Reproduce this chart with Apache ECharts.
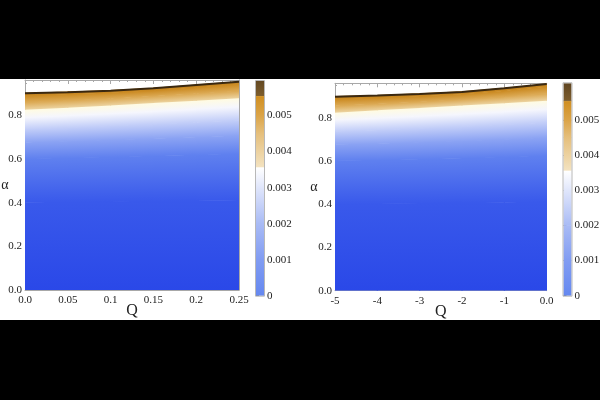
<!DOCTYPE html>
<html><head><meta charset="utf-8">
<script src="https://cdn.jsdelivr.net/npm/echarts@6/dist/echarts.min.js"></script>
<style>
html,body{margin:0;padding:0;background:#000;}
#band{position:absolute;left:0;top:79px;width:600px;height:241px;background:#fff;}
#chart{position:absolute;left:0;top:0;width:600px;height:400px;}
</style></head><body>
<div id="band"></div><div id="chart"></div>
<script>
// ---------------- data ----------------
const qLeft  = [0, 0.05, 0.1, 0.15, 0.2, 0.25];
const qRight = [-5, -4, -3, -2, -1, 0];

// contour levels of the plotted quantity and their plot colours
const levelValues = [0, 0.001, 0.002, 0.0025, 0.003, 0.0034, 0.00358, 0.00362, 0.0045, 0.0055, 0.0058];
const levelColors = ['#2a48e8', '#3959eb', '#5f80ef', '#8aa2f3', '#c0ccf8', '#f5f6fd', '#fffbe2', '#ecd3a0', '#dcaa55', '#cc8c25', '#bf801c'];

// α position of each contour level at each Q (left panel)
const contoursLeft = [
  [0, 0, 0, 0, 0, 0],
  [0.400, 0.402, 0.404, 0.406, 0.408, 0.410],
  [0.600, 0.604, 0.608, 0.613, 0.618, 0.623],
  [0.675, 0.680, 0.686, 0.692, 0.699, 0.706],
  [0.735, 0.742, 0.750, 0.758, 0.767, 0.776],
  [0.790, 0.799, 0.808, 0.818, 0.829, 0.840],
  [0.826, 0.836, 0.846, 0.857, 0.868, 0.879],
  [0.826, 0.836, 0.846, 0.857, 0.868, 0.879],
  [0.860, 0.868, 0.877, 0.888, 0.900, 0.912],
  [0.890, 0.896, 0.903, 0.913, 0.927, 0.943],
  [0.902, 0.907, 0.914, 0.925, 0.940, 0.955]
];
// α position of each contour level at each Q (right panel)
const contoursRight = [
  [0, 0, 0, 0, 0, 0],
  [0.400, 0.401, 0.403, 0.405, 0.407, 0.410],
  [0.600, 0.603, 0.607, 0.612, 0.617, 0.623],
  [0.675, 0.679, 0.685, 0.691, 0.698, 0.706],
  [0.735, 0.741, 0.749, 0.757, 0.766, 0.776],
  [0.790, 0.798, 0.807, 0.817, 0.828, 0.840],
  [0.824, 0.835, 0.846, 0.857, 0.868, 0.879],
  [0.824, 0.835, 0.846, 0.857, 0.868, 0.879],
  [0.856, 0.864, 0.873, 0.884, 0.897, 0.912],
  [0.885, 0.891, 0.899, 0.908, 0.923, 0.943],
  [0.898, 0.903, 0.911, 0.920, 0.937, 0.957]
];

// colour bar legends
const legendValues = [0, 0.001, 0.002, 0.003, 0.00355, 0.00358, 0.0045, 0.005, 0.00553, 0.00556, 0.0061];
const legendColors = ['#6588f0', '#819cf2', '#a9bbf5', '#e0e6fb', '#ffffff', '#f3e2bf', '#e5bf7c', '#dba448', '#d08f22', '#7c5c2c', '#5c4320'];
const legendTicks = [0, 0.001, 0.002, 0.003, 0.004, 0.005];
const legendMaxLeft = 0.00596;
const legendMaxRight = 0.00605;

const yMaxLeft = 0.963;
const yMaxRight = 0.960;

// ---------------- build ----------------
function bandData(q, rows) {
  const out = [];
  for (let k = 0; k < rows.length - 1; k++) {
    for (let i = 0; i < q.length - 1; i++) {
      out.push([q[i], q[i + 1], rows[k][i], rows[k][i + 1], rows[k + 1][i], rows[k + 1][i + 1], k]);
    }
  }
  return out;
}
function bandRender(params, api) {
  const p00 = api.coord([api.value(0), api.value(2)]);
  const p10 = api.coord([api.value(1), api.value(3)]);
  const p01 = api.coord([api.value(0), api.value(4)]);
  const p11 = api.coord([api.value(1), api.value(5)]);
  const k = api.value(6);
  const mb = [(p00[0] + p10[0]) / 2, (p00[1] + p10[1]) / 2];
  const mt = [(p01[0] + p11[0]) / 2, (p01[1] + p11[1]) / 2];
  let dx = (p10[0] - p00[0] + p11[0] - p01[0]) / 2, dy = (p10[1] - p00[1] + p11[1] - p01[1]) / 2;
  const L = Math.hypot(dx, dy); dx /= L; dy /= L;
  let nx = dy, ny = -dx; // normal pointing up
  const h = (mt[0] - mb[0]) * nx + (mt[1] - mb[1]) * ny;
  if (Math.abs(h) < 0.05 && Math.abs(p00[1] - p01[1]) < 0.05) return { type: 'group', children: [] };
  const grad = new echarts.graphic.LinearGradient(mb[0], mb[1], mb[0] + nx * h, mb[1] + ny * h,
    [{ offset: 0, color: levelColors[k] }, { offset: 1, color: levelColors[k + 1] }], true);
  // slight overlap with neighbours so no seams show
  const pts = [
    [p00[0] - 0.6, p00[1]], [p10[0] + 0.6, p10[1]],
    [p11[0] + 0.6, p11[1] - 0.6], [p01[0] - 0.6, p01[1] - 0.6]
  ];
  return { type: 'polygon', shape: { points: pts }, style: { fill: grad } };
}
function legendData() {
  const out = [];
  for (let k = 0; k < legendValues.length - 1; k++) out.push([legendValues[k], legendValues[k + 1], k]);
  return out;
}
function legendRender(params, api) {
  const a = api.coord([0, api.value(0)]);
  const b = api.coord([1, api.value(1)]);
  const k = api.value(2);
  const grad = new echarts.graphic.LinearGradient(0, a[1], 0, b[1],
    [{ offset: 0, color: legendColors[k] }, { offset: 1, color: legendColors[k + 1] }], true);
  return { type: 'rect', shape: { x: a[0], y: b[1] - 0.3, width: b[0] - a[0], height: a[1] - b[1] + 0.6 },
    style: { fill: grad } };
}
function borderRender(params, api) {
  const a = api.coord([0, api.value(0)]);
  const b = api.coord([1, api.value(1)]);
  return { type: 'rect', shape: { x: a[0] - 0.5, y: b[1] - 0.5, width: b[0] - a[0] + 1, height: a[1] - b[1] + 1 },
    style: { fill: 'none', stroke: '#b8b8b8', lineWidth: 1 } };
}

const FONT = 'Liberation Serif';
const frameColor = '#a8a8a8';
const labelStyle = { fontFamily: FONT, fontSize: 11, color: '#222' };

function plotAxes(gi, min, max, interval, minorSplit, fmt, isX, name, nameGap, nameSize) {
  const main = {
    type: 'value', gridIndex: gi, min: min, max: max, interval: interval,
    position: isX ? 'bottom' : 'left',
    name: name, nameLocation: 'middle', nameGap: nameGap, nameRotate: 0, nameMoveOverlap: false,
    nameTextStyle: { fontFamily: FONT, fontSize: nameSize, color: '#222' },
    axisLine: { show: true, onZero: false, lineStyle: { color: frameColor, width: 1 } },
    axisTick: { show: true, inside: true, length: 4, lineStyle: { color: frameColor } },
    minorTick: { show: true, splitNumber: minorSplit, length: 2, lineStyle: { color: frameColor } },
    axisLabel: Object.assign({ show: true, margin: isX ? 5 : 3, formatter: fmt, showMaxLabel: isX, hideOverlap: false }, labelStyle),
    splitLine: { show: false }
  };
  const opp = {
    type: 'value', gridIndex: gi, min: min, max: max, interval: interval,
    position: isX ? 'top' : 'right',
    axisLine: { show: true, onZero: false, lineStyle: { color: frameColor, width: 1 } },
    axisTick: { show: true, inside: true, length: 4, lineStyle: { color: frameColor } },
    minorTick: { show: true, splitNumber: minorSplit, length: 2, lineStyle: { color: frameColor } },
    axisLabel: { show: false }, splitLine: { show: false }
  };
  return [main, opp];
}
function cbarX(gi) { return { type: 'value', gridIndex: gi, min: 0, max: 1, show: false }; }
function cbarY(gi, max) {
  return {
    type: 'value', gridIndex: gi, min: 0, max: max, position: 'right',
    axisLine: { show: false },
    axisTick: { show: true, length: 3, customValues: legendTicks, lineStyle: { color: '#555' } },
    axisLabel: Object.assign({ margin: 3, customValues: legendTicks,
      formatter: v => v === 0 ? '0' : v.toFixed(3) }, labelStyle),
    splitLine: { show: false }
  };
}

const fmtXL = v => v === 0 ? '0.0' : String(parseFloat(v.toFixed(2)));
const fmtXR = v => v === 0 ? '0.0' : String(Math.round(v));
const fmtY = v => v.toFixed(1);

const xl = plotAxes(0, 0, 0.25, 0.05, 5, fmtXL, true, 'Q', 13, 16);
const yl = plotAxes(0, 0, yMaxLeft, 0.2, 4, fmtY, false, 'α', 16.5, 14);
const xr = plotAxes(2, -5, 0, 1, 5, fmtXR, true, 'Q', 13, 16);
const yr = plotAxes(2, 0, yMaxRight, 0.2, 4, fmtY, false, 'α', 17.5, 14);

const gridBase = { outerBoundsMode: 'none', containLabel: false };
const option = {
  backgroundColor: 'transparent',
  animation: false,
  grid: [
    Object.assign({ left: 25, top: 80, width: 214, height: 210 }, gridBase),
    Object.assign({ left: 256, top: 81, width: 8, height: 214.7 }, gridBase),
    Object.assign({ left: 335, top: 83.3, width: 211.7, height: 207.4 }, gridBase),
    Object.assign({ left: 563.5, top: 83.3, width: 8, height: 212.4 }, gridBase)
  ],
  xAxis: [xl[0], xl[1], cbarX(1), xr[0], xr[1], cbarX(3)],
  yAxis: [yl[0], yl[1], cbarY(1, legendMaxLeft), yr[0], yr[1], cbarY(3, legendMaxRight)],
  series: [
    { type: 'custom', xAxisIndex: 0, yAxisIndex: 0, renderItem: bandRender, data: bandData(qLeft, contoursLeft), clip: true, silent: true,
      encode: { x: [0, 1], y: [2, 3, 4, 5] } },
    { type: 'line', xAxisIndex: 0, yAxisIndex: 0, data: qLeft.map((q, i) => [q, contoursLeft[contoursLeft.length - 1][i]]),
      showSymbol: false, lineStyle: { color: '#3a2810', width: 2 }, silent: true, z: 3 },
    { type: 'custom', xAxisIndex: 2, yAxisIndex: 2, renderItem: legendRender, data: legendData(), silent: true, clip: true },
    { type: 'custom', xAxisIndex: 2, yAxisIndex: 2, renderItem: borderRender, data: [[0, legendMaxLeft]], silent: true, z: 4 },
    { type: 'custom', xAxisIndex: 3, yAxisIndex: 3, renderItem: bandRender, data: bandData(qRight, contoursRight), clip: true, silent: true,
      encode: { x: [0, 1], y: [2, 3, 4, 5] } },
    { type: 'line', xAxisIndex: 3, yAxisIndex: 3, data: qRight.map((q, i) => [q, contoursRight[contoursRight.length - 1][i]]),
      showSymbol: false, lineStyle: { color: '#3a2810', width: 2 }, silent: true, z: 3 },
    { type: 'custom', xAxisIndex: 5, yAxisIndex: 5, renderItem: legendRender, data: legendData(), silent: true, clip: true },
    { type: 'custom', xAxisIndex: 5, yAxisIndex: 5, renderItem: borderRender, data: [[0, legendMaxRight]], silent: true, z: 4 }
  ]
};
const chart = echarts.init(document.getElementById('chart'), null, { renderer: 'canvas' });
chart.setOption(option);
</script>
</body></html>
